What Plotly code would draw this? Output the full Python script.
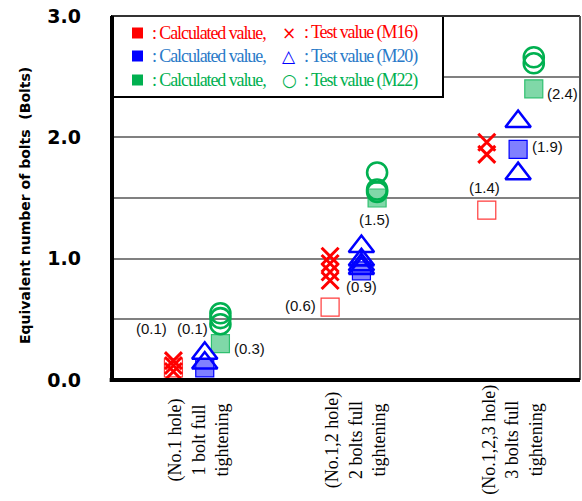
import plotly.graph_objects as go

# ---- data -------------------------------------------------------------
groups = [1, 2, 3]
group_labels = [
    "(No.1 hole)<br>1 bolt full<br>tightening",
    "(No.1,2 hole)<br>2 bolts full<br>tightening",
    "(No.1,2,3 hole)<br>3 bolts full<br>tightening",
]

# calculated equivalent number of bolts
calc_m16 = [0.1, 0.6, 1.4]
calc_m20 = [0.1, 0.9, 1.9]
calc_m22 = [0.3, 1.5, 2.4]

# measured (test) values, several specimens per case
test_m16 = [[0.07, 0.12, 0.16], [0.82, 0.89, 0.96, 1.02], [1.86, 1.96]]
test_m20 = [[0.14, 0.22], [0.92, 0.95, 0.99, 1.10], [1.70, 2.13]]
test_m22 = [[0.46, 0.51, 0.55], [1.55, 1.57, 1.71], [2.61, 2.66]]

y_tickvals = [0.0, 0.5, 1.0, 1.5, 2.0, 2.5, 3.0]
y_ticktext = ["0.0", "", "1.0", "", "2.0", "", "3.0"]

# ---- styling ----------------------------------------------------------
RED = "#ff0000"
BLUE = "#0000ff"
BLUE_TXT = "#2a7ac8"
GREEN = "#00b050"

# horizontal offset of each bolt size inside a group (axis units)
OFF = {"M16": -0.2, "M20": 0.0, "M22": 0.1}

W, H = 582, 501
L, R, T, B = 112, 580, 16, 380


def px(xp):
    return (xp - L) / (R - L)


def py(yp):
    return (B - yp) / (B - T)


fig = go.Figure()


def calc_trace(vals, key, fill, line):
    fig.add_trace(go.Scatter(
        x=[g + OFF[key] for g in groups], y=vals, mode="markers",
        marker=dict(symbol="square", size=18, color=fill,
                    line=dict(color=line, width=1.2)),
        hoverinfo="skip", showlegend=False))


def test_trace(vals, key, symbol, color, size, width):
    xs, ys = [], []
    for g, vv in zip(groups, vals):
        for v in vv:
            xs.append(g + OFF[key])
            ys.append(v)
    fig.add_trace(go.Scatter(
        x=xs, y=ys, mode="markers",
        marker=dict(symbol=symbol, size=size, color=color,
                    line=dict(color=color, width=width)),
        hoverinfo="skip", showlegend=False))


calc_trace(calc_m16, "M16", "rgba(255,255,255,0)", "#ff3b3b")
calc_trace(calc_m20, "M20", "#8080ff", BLUE)
calc_trace(calc_m22, "M22", "#80d8a8", "#30c070")

test_trace(test_m16, "M16", "x-thin-open", RED, 17, 3)
test_trace(test_m20, "M20", "triangle-up-open", BLUE, 22, 2.6)
test_trace(test_m22, "M22", "circle-open", GREEN, 20, 2.6)

annotations = []

# value labels next to the calculated markers (pixel offsets)
label_offsets = {
    "M16": [(-22, 39), (-30, 2), (-2, 23)],
    "M20": [(-12, 39), (0, -16), (29, 3)],
    "M22": [(29, -5), (-3, -21), (29, -5)],
}
for key, vals in (("M16", calc_m16), ("M20", calc_m20), ("M22", calc_m22)):
    for g, v, (dx, dy) in zip(groups, vals, label_offsets[key]):
        annotations.append(dict(
            x=g + OFF[key], y=v, xref="x", yref="y", text=f"({v:.1f})",
            showarrow=False, xshift=dx, yshift=dy,
            font=dict(family="Liberation Sans", size=15, color="#111111")))

# rotated category labels below the axis
for g, lab in zip(groups, group_labels):
    annotations.append(dict(
        x=g - 0.04, y=py(440), xref="x", yref="paper", text=lab,
        textangle=-90, showarrow=False, align="center",
        xanchor="center", yanchor="middle",
        font=dict(family="Liberation Serif", size=18, color="black")))

# y-axis title
annotations.append(dict(
    x=px(25), y=py(206), xref="paper", yref="paper",
    text="<b>Equivalent number of bolts  (Bolts)</b>", textangle=-90,
    showarrow=False, xanchor="center", yanchor="middle",
    font=dict(family="DejaVu Sans", size=14, color="black")))

# legend box contents
legend_rows = [
    (33, RED, RED, "×", "M16"),
    (56, BLUE, BLUE_TXT, "△", "M20"),
    (80, GREEN, GREEN, "○", "M22"),
]
shapes = [
    dict(type="rect", xref="paper", yref="paper", x0=0, x1=px(443),
         y0=py(97), y1=1, fillcolor="white", line=dict(color="black", width=2),
         layer="above"),
]
for yrow, mcol, tcol, glyph, name in legend_rows:
    shapes.append(dict(type="rect", xref="paper", yref="paper",
                       x0=px(132), x1=px(143), y0=py(yrow + 5.5), y1=py(yrow - 5.5),
                       fillcolor=mcol, line=dict(width=0), layer="above"))
    annotations.append(dict(
        x=px(150), y=py(yrow), xref="paper", yref="paper",
        text='<span style="letter-spacing:-1.1px">: Calculated value,</span>',
        showarrow=False, xanchor="left", yanchor="middle",
        font=dict(family="Liberation Serif", size=18, color=tcol)))
    annotations.append(dict(
        x=px(289), y=py(yrow), xref="paper", yref="paper", text=glyph,
        showarrow=False, xanchor="center", yanchor="middle",
        font=dict(family="DejaVu Sans", size=17, color=mcol)))
    annotations.append(dict(
        x=px(302), y=py(yrow), xref="paper", yref="paper",
        text=f'<span style="letter-spacing:-1.1px">: Test value ({name})</span>',
        showarrow=False, xanchor="left", yanchor="middle",
        font=dict(family="Liberation Serif", size=18, color=tcol)))

# plot frame: thin outer border plus heavy left and bottom axes
shapes += [
    dict(type="line", xref="paper", yref="paper", x0=0, x1=1, y0=1, y1=1,
         line=dict(color="#333333", width=2), layer="above"),
    dict(type="line", xref="paper", yref="paper", x0=1, x1=1, y0=0, y1=1,
         line=dict(color="#555555", width=2), layer="above"),
    dict(type="line", xref="paper", yref="paper", x0=0, x1=0, y0=-0.005, y1=1,
         line=dict(color="black", width=4), layer="above"),
    dict(type="line", xref="paper", yref="paper", x0=-0.005, x1=1, y0=0, y1=0,
         line=dict(color="black", width=4), layer="above"),
]

fig.update_layout(
    width=W, height=H,
    margin=dict(l=L, r=W - R, t=T, b=H - B),
    paper_bgcolor="white", plot_bgcolor="white",
    xaxis=dict(range=[0.408, 3.395], showgrid=False, zeroline=False,
               showline=False, showticklabels=False, fixedrange=True),
    yaxis=dict(range=[0, 3], tickvals=y_tickvals, ticktext=y_ticktext,
               showgrid=True, gridcolor="#808080", gridwidth=2,
               zeroline=False, showline=False, ticks="",
               ticklabelstandoff=30,
               tickfont=dict(family="DejaVu Sans", size=19, color="black",
                             weight="bold"),
               fixedrange=True),
    annotations=annotations,
    shapes=shapes,
)

fig.write_html("out.html")
